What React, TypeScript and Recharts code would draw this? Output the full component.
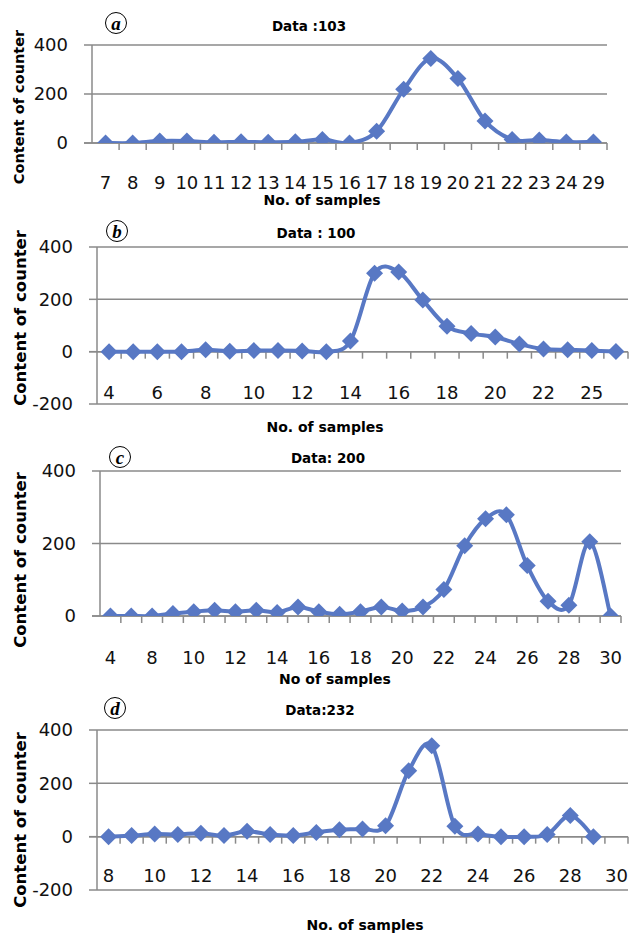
import { LineChart, Line, XAxis, YAxis, CartesianGrid, ReferenceLine } from 'recharts'

// panel (a) Data :103
const catsA = ['7', '8', '9', '10', '11', '12', '13', '14', '15', '16', '17', '18', '19', '20', '21', '22', '23', '24', '29']
const valsA = [0, 0, 8, 8, 3, 5, 3, 5, 14, 0, 48, 219, 345, 263, 90, 14, 12, 4, 4]

// panel (b) Data : 100
const catsB = ['4', '5', '6', '7', '8', '9', '10', '11', '12', '13', '14', '15', '16', '17', '18', '19', '20', '21', '22', '23', '25', '26']
const valsB = [0, 0, 0, 0, 7, 2, 4, 4, 3, 0, 41, 300, 304, 197, 97, 69, 56, 29, 10, 7, 4, 1]

// panel (c) Data: 200
const catsC = ['4', '6', '8', '9', '10', '11', '12', '13', '14', '15', '16', '17', '18', '19', '20', '21', '22', '23', '24', '25', '26', '27', '28', '29', '30']
const valsC = [0, 0, 0, 7, 12, 16, 12, 16, 10, 25, 12, 5, 12, 25, 14, 25, 73, 194, 268, 279, 139, 41, 30, 205, 0]

// panel (d) Data:232
const catsD = ['8', '9', '10', '11', '12', '13', '14', '15', '16', '17', '18', '19', '20', '21', '22', '23', '24', '25', '26', '27', '28', '29', '30']
const valsD = [0, 4, 10, 8, 13, 4, 20, 8, 4, 16, 26, 29, 41, 247, 341, 39, 10, 0, 0, 8, 79, 0, null]

const ticksPos = [0, 200, 400]
const ticksNeg = [-200, 0, 200, 400]

const BLUE = '#5878c4'
const GRAY = '#8a8a8a'
const NUM_FONT = 'DejaVu Sans'

// Excel-like smoothed line (Catmull-Rom as cubic beziers)
function excelSmooth(context: any) {
  let pts: number[][] = []
  return {
    areaStart() {},
    areaEnd() {},
    lineStart() {
      pts = []
    },
    point(x: number, y: number) {
      pts.push([+x, +y])
    },
    lineEnd() {
      const n = pts.length
      if (!n) return
      context.moveTo(pts[0][0], pts[0][1])
      for (let i = 0; i < n - 1; i++) {
        const p0 = pts[i - 1] || pts[i]
        const p1 = pts[i]
        const p2 = pts[i + 1]
        const p3 = pts[i + 2] || p2
        context.bezierCurveTo(
          p1[0] + (p2[0] - p0[0]) / 6, p1[1] + (p2[1] - p0[1]) / 6,
          p2[0] - (p3[0] - p1[0]) / 6, p2[1] - (p3[1] - p1[1]) / 6,
          p2[0], p2[1]
        )
      }
    },
  }
}

const Diamond = (props: any) => {
  const { cx, cy, index } = props
  if (cx == null || cy == null || props.value == null) return <g key={index} />
  const r = 8.5
  return <path key={index} d={`M${cx},${cy - r}L${cx + r},${cy}L${cx},${cy + r}L${cx - r},${cy}Z`} fill={BLUE} />
}

// horizontal axis at value 0, with tick marks between categories
const zeroAxis = (n: number) => (p: any) => {
  const step = (p.x2 - p.x1) / n
  const marks = []
  for (let k = 1; k <= n; k++) {
    const x = p.x1 + k * step
    marks.push(<line key={k} x1={x} x2={x} y1={p.y1} y2={p.y1 + 7} stroke={GRAY} strokeWidth={1.5} />)
  }
  return (
    <g>
      <line x1={p.x1 - 8} x2={p.x2} y1={p.y1} y2={p.y2} stroke={GRAY} strokeWidth={1.5} />
      {marks}
    </g>
  )
}

const CatTick = (dy: number) => (props: any) => {
  const { x, y, payload } = props
  return (
    <text x={x} y={y} dy={dy} textAnchor="middle" fontFamily={NUM_FONT} fontSize={18} fill="#111">
      {payload.value}
    </text>
  )
}

const PANELS = [
  { key: 'a', cats: catsA, vals: valsA, ticks: ticksPos, top: 0, height: 210, margin: { top: 45, right: 24, bottom: 17, left: 0 }, yWidth: 92, xHeight: 50, interval: 0, tickDy: 46 },
  { key: 'b', cats: catsB, vals: valsB, ticks: ticksNeg, top: 210, height: 230, margin: { top: 37, right: 3, bottom: 16, left: 0 }, yWidth: 97, xHeight: 20, interval: 1, tickDy: -5 },
  { key: 'c', cats: catsC, vals: valsC, ticks: ticksPos, top: 440, height: 240, margin: { top: 31, right: 10, bottom: 44, left: 0 }, yWidth: 100, xHeight: 20, interval: 1, tickDy: 48 },
  { key: 'd', cats: catsD, vals: valsD, ticks: ticksNeg, top: 690, height: 220, margin: { top: 40, right: 3, bottom: 0, left: 0 }, yWidth: 97, xHeight: 20, interval: 1, tickDy: -8 },
]

const TEXTS = [
  { title: 'Data :103', tx: 309, ty: 26, letter: 'a', lx: 116, ly: 23, xTitle: 'No. of samples', xx: 322, xy: 200, yx: 19, yy: 107, ySize: 14.5 },
  { title: 'Data : 100', tx: 316, ty: 233, letter: 'b', lx: 117, ly: 231, xTitle: 'No. of samples', xx: 325, xy: 427, yx: 20, yy: 318, ySize: 16.5 },
  { title: 'Data: 200', tx: 328, ty: 458, letter: 'c', lx: 120, ly: 457, xTitle: 'No of samples', xx: 335, xy: 679, yx: 20, yy: 560, ySize: 16.5 },
  { title: 'Data:232', tx: 320, ty: 710, letter: 'd', lx: 115, ly: 708, xTitle: 'No. of samples', xx: 365, xy: 925, yx: 20, yy: 820, ySize: 16.5 },
]

const center = { position: 'absolute' as const, transform: 'translate(-50%, -50%)', whiteSpace: 'nowrap' as const }

export default function App() {
  return (
    <div style={{ position: 'absolute', left: 0, top: 0, width: 631, height: 938, background: '#fff', overflow: 'hidden' }}>
      {PANELS.map((p) => {
        const data = p.cats.map((c, i) => ({ cat: c, v: p.vals[i] }))
        return (
          <div key={p.key} style={{ position: 'absolute', left: 0, top: p.top }}>
            <LineChart width={631} height={p.height} data={data} margin={p.margin}>
              <CartesianGrid horizontal vertical={false} stroke={GRAY} strokeWidth={1.5} />
              <XAxis
                dataKey="cat"
                scale="band"
                height={p.xHeight}
                axisLine={false}
                tickLine={false}
                tickSize={0}
                tickMargin={0}
                interval={p.interval}
                tick={CatTick(p.tickDy)}
              />
              <YAxis
                type="number"
                domain={[p.ticks[0], 400]}
                ticks={p.ticks}
                width={p.yWidth}
                axisLine={{ stroke: GRAY, strokeWidth: 1.5 }}
                tickLine={{ stroke: GRAY, strokeWidth: 1.5 }}
                tickSize={8}
                tickMargin={16}
                tick={{ fontFamily: NUM_FONT, fontSize: 18, fill: '#111' }}
                allowDataOverflow
              />
              <ReferenceLine y={0} shape={zeroAxis(p.cats.length)} />
              <Line
                dataKey="v"
                type={excelSmooth as any}
                stroke={BLUE}
                strokeWidth={4}
                dot={Diamond}
                activeDot={false}
                isAnimationActive={false}
              />
            </LineChart>
          </div>
        )
      })}
      {TEXTS.map((t) => (
        <div key={t.letter}>
          <div style={{ ...center, left: t.tx, top: t.ty, fontFamily: NUM_FONT, fontWeight: 'bold', fontSize: 13.5 }}>{t.title}</div>
          <div
            style={{
              ...center,
              left: t.lx,
              top: t.ly,
              width: 20,
              height: 20,
              border: '1.5px solid #000',
              borderRadius: '50%',
              display: 'flex',
              alignItems: 'center',
              justifyContent: 'center',
              fontFamily: 'Liberation Serif',
              fontStyle: 'italic',
              fontWeight: 'bold',
              fontSize: 19,
              lineHeight: 1,
            }}
          >
            {t.letter}
          </div>
          <div style={{ ...center, left: t.xx, top: t.xy, fontFamily: NUM_FONT, fontWeight: 'bold', fontSize: 14 }}>{t.xTitle}</div>
          <div style={{ ...center, left: t.yx, top: t.yy, transform: 'translate(-50%, -50%) rotate(-90deg)', fontFamily: NUM_FONT, fontWeight: 'bold', fontSize: t.ySize }}>
            Content of counter
          </div>
        </div>
      ))}
    </div>
  )
}
